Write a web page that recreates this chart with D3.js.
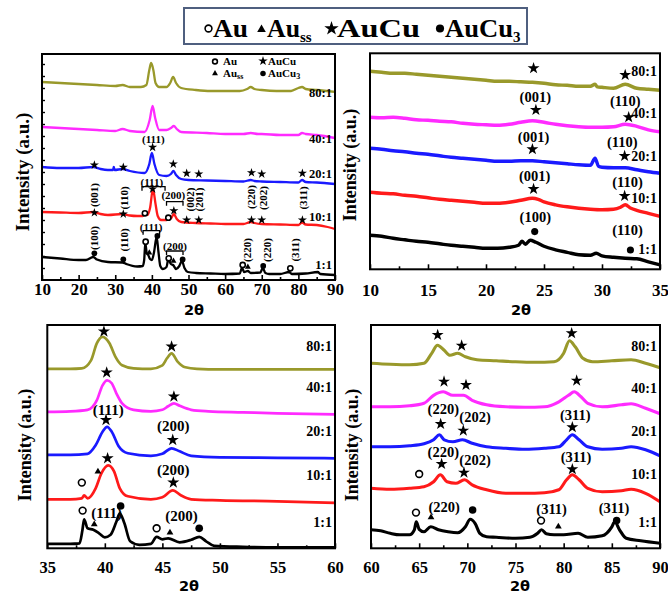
<!DOCTYPE html>
<html>
<head>
<meta charset="utf-8">
<script src="https://cdn.jsdelivr.net/npm/d3@7"></script>
<style>
body { margin: 0; background: #fff; }
svg text { font-family: "Liberation Serif", "Times New Roman", serif; font-weight: bold; fill: #000; }
</style>
</head>
<body>
<svg id="fig" width="668" height="594"></svg>
<script>
const serif = "'Liberation Serif', 'Times New Roman', serif";

// sample ratios and trace colours, top to bottom
const samples = ["80:1", "40:1", "20:1", "10:1", "1:1"];
const colors = ["#99992b", "#ff2bff", "#1a1aff", "#ff1a1a", "#000000"];

// ---- panel 1: full scan 10-90 (2theta, intensity a.u.)
const p1_80 = [[10,198],[15,197],[20,196],[25,195],[30,194],[32,195],[34,193],[37,193],[38.5,195],[39.3,210],[39.8,217],[40.4,210],[41,197],[42,193],[44,193],[45,197],[45.8,203],[46.6,197],[48,192],[52,190],[56,189],[60,189],[64,189],[66,191],[67,193],[68,191],[70,190],[74,189],[78,189],[80,192],[81,193],[82,191],[85,190],[90,188]];
const p1_40 = [[10,153],[15,152],[20,151],[25,150],[30,149],[32,151],[34,149],[38,148],[39.4,160],[40.2,174],[40.9,162],[42,150],[44,150],[45.2,152],[46,154],[46.8,151],[48,148],[55,147],[60,146],[65,146],[67,147],[69,146],[70,146],[75,145],[80,145],[81,147],[82,146],[85,145],[90,142]];
const p1_20 = [[10,113],[15,112],[20,112],[24,113],[26,111],[28,110],[29.4,110],[29.6,113],[29.8,110],[32,111],[34,109],[38,107],[39.3,116],[40,127],[40.7,116],[42,105],[44,104],[45.2,106],[45.9,109],[46.6,105],[48,101],[50,100],[55,99.5],[60,99],[65,98.5],[67,100],[68,99],[70,98.5],[75,98],[80,97.5],[81,100],[82,98],[85,97.5],[90,96]];
const p1_10 = [[10,68],[15,67.5],[20,67],[24,68],[26,66],[28,65],[32,66],[34,64.5],[36,64],[37.5,64],[38.2,66.5],[38.8,65],[39.5,72],[40.3,91],[41,76],[41.6,64],[42.5,60],[44,60],[44.6,61],[45.3,62],[46,66],[46.8,61],[48,58],[52,57],[56,56.5],[60,56],[65,56],[67,58],[68,57],[70,56],[75,55.5],[80,55],[81,57.5],[82,55.5],[85,55],[88,53],[90,51]];
const p1_1 = [[10,23],[15,21.5],[20,20],[22,20],[24,23],[25,20.5],[28,18],[32,17.5],[33,16],[36,13.5],[37.5,14],[37.9,20],[38.2,37],[38.6,27],[39,25],[39.5,21],[40,20],[40.6,28],[41.3,43],[41.8,28],[42.3,14],[43,11],[44,13],[44.5,21],[45.2,16],[45.8,15],[46.6,11],[47.5,14],[48.2,19],[48.9,12],[49.8,8],[52,7],[56,6.5],[60,6],[64,6.5],[64.6,12],[65.2,8],[66.2,9],[67,7],[69.6,7.5],[70.3,12],[71,7],[72,6],[75,6],[77.5,8],[78.2,6],[82,6.5],[85.3,8],[86,6],[90,5]];

// ---- panel 2: 10-35
const p2_80 = [[10,198],[11,197],[12,196],[13,196],[14,195],[15,194],[16,193],[17,192],[18,191],[19,190],[20,189],[21,188],[22,188],[23,187.5],[24,187],[25,186],[26,184.5],[27,184],[28,183],[29,183],[29.4,185],[29.6,182.5],[30,182],[31,181],[32,185],[33,181],[34,180],[35,179]];
const p2_40 = [[10,152],[11,151.5],[12,152],[13,151],[14,149.5],[15,149],[16,148],[17,147.5],[18,146],[19,145],[20,144.5],[21,144],[22,145],[23,147],[24,148.5],[25,147],[26,145],[27,143.5],[28,142.5],[29,142],[30,142],[31,142.5],[32,145],[33,143],[34,139.5],[35,137.5]];
const p2_20 = [[10,121],[11,120],[12,118.5],[13,117.5],[14,116],[15,115],[16,113.5],[17,112],[18,111],[19,110],[20,109],[21,108],[22,108],[23,108.5],[24,108.5],[25,107.5],[26,106.5],[27,105.5],[28,104.5],[29,104],[29.4,111],[29.7,103],[30,102],[31,101.5],[32,101.5],[33,99.5],[34,97.5],[35,96]];
const p2_10 = [[10,77],[11,76],[12,75.5],[13,74],[14,73],[15,71.5],[16,70],[17,69],[18,68],[19,67],[20,66],[21,66],[22,67],[23,69],[24,71],[24.5,70],[25,67.5],[26,64.5],[27,62.5],[28,61],[29,60],[30,59.5],[31,60],[31.6,62],[32,64.5],[32.5,61],[33,59],[34,56],[35,53]];
const p2_1 = [[10,34],[11,33],[12,31],[13,29.5],[14,28],[15,27],[16,25.5],[17,24],[18,23],[19,22],[20,21],[21,21],[22,22],[22.8,24],[23.1,28],[23.4,25],[23.8,29],[24.3,27],[25,23],[26,19.5],[27,17],[28,14.5],[29,14],[29.5,16],[30,13.5],[31,12],[32,11],[33,10.5],[34,7.5],[35,4.5]];

// ---- panel 3: 35-60
const p3_80 = [[35,179.5],[36,179.5],[37,179.5],[38,180],[38.8,188],[39.3,205],[39.8,211.5],[40.4,205],[40.9,192],[41.5,183],[42.5,180],[44,179.5],[45,183],[45.4,190],[45.8,195],[46.3,187],[47,181],[48,179.5],[50,179],[55,179],[60,179]];
const p3_40 = [[35,136.5],[37,137],[38.5,138.5],[39.3,148],[39.8,163],[40.2,168],[40.6,165],[41,155],[41.5,145],[42.5,138.5],[44,137],[45,138.5],[45.5,142],[46,145],[46.5,142.5],[47.5,138.5],[49,137],[52,136],[55,135],[60,134]];
const p3_20 = [[35,93.5],[37,93.5],[38.5,94.5],[39.2,103],[39.8,116.5],[40.2,121.5],[40.6,116.5],[41.2,102],[42,95],[44,92.5],[45,94.5],[45.8,100],[46.5,97],[47.5,92.5],[50,91],[55,90.5],[60,90]];
const p3_10 = [[35,49],[37,49],[38,50],[38.2,53],[38.5,50],[39.2,60],[39.7,75],[40.3,83],[40.8,77],[41.3,60],[42,52],[44,49],[45,51],[45.9,58],[46.6,53],[47.5,49],[50,48],[55,47],[60,45.5]];
const p3_1 = [[35,4.5],[37,4.5],[37.8,5],[38.05,18],[38.2,29],[38.5,20],[39,18.5],[39.5,15],[40,11],[40.5,13.5],[41,26.5],[41.3,35],[41.7,25],[42.2,7],[43,3.5],[44,4.5],[44.5,11.5],[45,9],[45.5,10],[46.5,6],[47.5,8.5],[48.2,11.5],[48.8,7],[49.5,2.5],[52,1.5],[55,1],[60,1]];

// ---- panel 4: 60-90
const p4_80 = [[60,185],[62,184],[64,183.5],[65.5,185],[66.3,195],[66.9,203],[67.6,198],[68.2,193],[69,195],[69.8,191.5],[71,188.5],[73,187.5],[75,186.5],[77,186],[79,186.5],[80,195],[80.6,207.5],[81.2,201.5],[82,190],[83,186.5],[85,187.5],[87,188.5],[88.5,185],[90,180.5]];
const p4_40 = [[60,141.5],[62,141.5],[64,142.5],[65.5,145],[66.5,153],[67.5,156.5],[68.5,153],[69.6,153],[70.5,148],[72,143.5],[74,141.5],[76,141],[78,141.5],[79.5,146.5],[80.5,153],[81.1,156.5],[81.8,151.5],[82.5,145],[84,141.5],[86,143.5],[87,144.5],[88.5,140],[90,134.5]];
const p4_20 = [[60,101.5],[62,101.5],[64,102.5],[65.5,104.5],[66.5,108.5],[67.1,113.5],[67.6,108.5],[68.5,106.5],[69.5,108.5],[70.5,105],[72,101.5],[74,100],[76,99],[78,100],[79.5,101.5],[80.3,108.5],[80.9,113.5],[81.6,108.5],[82.5,101.5],[84,99],[86,100],[87,101.5],[88.5,98.5],[90,92.5]];
const p4_10 = [[60,60],[62,59],[64,60],[65.5,61.5],[66.5,66.5],[67.2,73.5],[67.9,66.5],[68.8,65],[69.7,68.5],[70.5,63.5],[72,58.5],[74,55],[76,55],[78,55.5],[79.5,58.5],[80.3,68.5],[80.9,73.5],[81.6,68.5],[82.5,60],[84,56.5],[86,57.5],[87,59],[88.5,55],[90,46.5]];
const p4_1 = [[60,18.5],[61,17.5],[62,15],[63,13.5],[64,13.5],[64.5,18.5],[64.7,26.5],[65,19],[65.5,16.5],[66.2,21.5],[67,18.5],[68,16.5],[69,15.5],[69.8,21.5],[70.3,29],[70.8,25],[71.3,15],[72,11.5],[73,11],[75,10],[76.5,11],[77.3,15],[77.7,18.5],[78.2,14.5],[79,13.5],[80,13.5],[81.5,15],[82.5,11],[84,12.5],[85,21.5],[85.3,26.5],[85.8,18.5],[86.5,10],[88,7.5],[90,5]];

// x tick labels
const ticks1 = [10, 20, 30, 40, 50, 60, 70, 80, 90];
const ticks2 = [10, 15, 20, 25, 30, 35];
const ticks3 = [35, 40, 45, 50, 55, 60];
const ticks4 = [60, 65, 70, 75, 80, 85, 90];

// height (a.u.) of each sample label, per panel
const labelY1 = [186.7, 140.7, 106, 63.3, 15];
const labelY2 = [197.7, 156, 112.7, 71, 20];
const labelY3 = [201.7, 161, 116.7, 73.3, 25.7];
const labelY4 = [201.7, 160, 116.7, 74.3, 25.7];

// phase markers: [type, 2theta, intensity]
const marks1 = [
  ["star",24.3,115],["star",32.2,112.7],["star",40.2,132.7],["star",45.85,116],["star",49.5,106.7],["star",52.8,106],["star",67.2,107.3],["star",70.0,106],["star",81.1,106.7],
  ["star",24.3,67.3],["star",32.2,66],["star",40.2,91],["star",46.0,69.3],["star",49.5,60],["star",52.8,60],["star",67.2,60],["star",70.0,60],["star",81.1,60],
  ["open",38.1,66.7],["open",44.5,62.3],
  ["dot",24.3,26.7],["dot",32.2,20.7],["dot",41.5,44],["dot",48.4,20.5],["dot",70.4,14],
  ["open",38.3,38.3],["open",44.6,21.7],["open",64.8,15],["open",77.8,11.7],
  ["tri",39.3,27.3],["tri",45.9,19],["tri",66.2,13]
];
const marks2 = [
  ["star",24.1,201],["star",32.0,194.3],["star",24.3,159.3],["star",32.3,152],["star",24.0,120],["star",31.95,113.3],["star",24.1,80.3],["star",31.95,73.3],
  ["dot",24.2,37.7],["dot",32.45,19.3]
];
const marks3 = [
  ["star",39.92,216.7],["star",45.8,201.7],["star",40.16,175.7],["star",46.0,151.7],["star",40.1,128.3],["star",45.9,108.3],["star",40.24,90],["star",45.95,65.7],
  ["tri",39.4,76.7],["tri",39.08,24],["tri",45.66,15.7],
  ["open",38.0,65.7],["open",38.07,37.7],["open",44.5,20],
  ["dot",41.37,42.3],["dot",48.2,20]
];
const marks4 = [
  ["star",66.92,213.3],["star",69.41,202.7],["star",80.83,215],["star",67.58,166.7],["star",69.86,163.3],["star",81.35,167.7],
  ["star",67.23,124.3],["star",69.58,117.7],["star",80.9,121],["star",67.33,84.3],["star",69.65,75.7],["star",80.9,79],
  ["open",65.0,74.3],["open",64.67,35.7],["open",77.65,27.7],
  ["tri",66.23,31],["tri",79.45,21.7],
  ["dot",70.55,38.3],["dot",85.5,27.7]
];

// Miller index labels: [text, 2theta, intensity, rotated]
const hkl1 = [
  ["(111)",40.4,140.7,0],["(111)",40.0,98.3,0],["(200)",45.85,85,0],["(111)",39.8,53.3,0],["(200)",46.3,34,0],
  ["(001)",24.3,85,1],["(110)",32.4,82,1],["(002)",50.4,80.5,1],["(201)",53.0,80.5,1],["(220)",67.2,83,1],["(202)",70.3,82,1],["(311)",81.2,82,1],
  ["(100)",24.2,42,1],["(110)",32.5,40,1],["(220)",65.9,30,1],["(220)",71.4,30,1],["(311)",79.1,30,1]
];
const hkl2 = [
  ["(001)",24.25,172,0],["(110)",32.0,168.5,0],["(001)",24.1,132.7,0],["(110)",31.75,127.7,0],
  ["(001)",24.2,93.3,0],["(110)",32.2,87.7,0],["(100)",24.25,52,0],["(110)",32.2,39.3,0]
];
const hkl3 = [
  ["(111)",40.3,138.3,0],["(200)",45.95,122.3,0],["(200)",45.95,78.3,0],["(111)",40.16,35,0],["(200)",46.67,32.3,0]
];
const hkl4 = [
  ["(220)",67.5,139,0],["(202)",70.8,131,0],["(311)",81.2,133.3,0],["(220)",67.5,96.7,0],["(202)",70.8,88.3,0],
  ["(311)",81.28,91.7,0],["(220)",67.6,41.7,0],["(311)",78.75,39,0],["(311)",85.22,40,0]
];
// brackets grouping reflections in panel 1: [from, to, intensity]
const brackets1 = [[37.3,43.6,93.3],[44.0,48.5,78.3],[37.6,42.1,49.3],[44.0,48.5,29]];

const panels = [
  { box: [42, 54, 335, 280], x: [10, 90], ticks: ticks1, minor: 5, series: [p1_80, p1_40, p1_20, p1_10, p1_1],
    labelY: labelY1, marks: marks1, hkl: hkl1, brackets: brackets1, lw: 2.3, pad: 3, tfs: 17, fs: 12.5, hfs: 11,
    sym: { star: 26, dot: 26, open: 2.6, tri: 15 }, ylab: [22, 172, 19], xlab: [194, 310], yticks: true },
  { box: [370, 53.3, 660, 269.3], x: [10, 35], ticks: ticks2, minor: 2.5, series: [p2_80, p2_40, p2_20, p2_10, p2_1],
    labelY: labelY2, marks: marks2, hkl: hkl2, brackets: [], lw: 3.4, pad: 15, tfs: 17, fs: 14, hfs: 14.5,
    sym: { star: 44, dot: 40, open: 3.3, tri: 20 }, ylab: [350, 165, 18], xlab: [521, 310] },
  { box: [47.3, 325, 335, 548.3], x: [35, 60], ticks: ticks3, minor: 2.5, series: [p3_80, p3_40, p3_20, p3_10, p3_1],
    labelY: labelY3, marks: marks3, hkl: hkl3, brackets: [], lw: 2.7, pad: 13, tfs: 16.5, fs: 14, hfs: 15,
    sym: { star: 46, dot: 46, open: 3.4, tri: 20 }, ylab: [25, 445, 18], xlab: [189, 586] },
  { box: [371, 325, 660, 548.3], x: [60, 90], ticks: ticks4, minor: 2.5, series: [p4_80, p4_40, p4_20, p4_10, p4_1],
    labelY: labelY4, marks: marks4, hkl: hkl4, brackets: [], lw: 3.1, pad: 13, tfs: 16.5, fs: 14, hfs: 14.5,
    sym: { star: 44, dot: 44, open: 3.4, tri: 20 }, ylab: [352, 445, 18], xlab: [520, 586] }
];

const svg = d3.select("#fig");

function drawMark(g, type, x, y, s) {
  if (type === "open") {
    g.append("circle").attr("cx", x).attr("cy", y).attr("r", s.open)
      .attr("fill", "#fff").attr("stroke", "#000").attr("stroke-width", 1.6);
    return;
  }
  const shape = { star: d3.symbolStar, dot: d3.symbolCircle, tri: d3.symbolTriangle }[type];
  g.append("path")
    .attr("d", d3.symbol().type(shape).size(s[type])())
    .attr("transform", `translate(${x},${y})`)
    .attr("fill", "#000");
}

panels.forEach(p => {
  const [x0, y0, x1, y1] = p.box;
  const xScale = d3.scaleLinear().domain(p.x).range([x0, x1]);
  const yScale = d3.scaleLinear().domain([0, y1 - y0]).range([y1, y0]);
  const g = svg.append("g");

  // traces
  const line = d3.line()
    .x(d => xScale(d[0]))
    .y(d => yScale(d[1]))
    .curve(d3.curveMonotoneX);
  p.series.forEach((s, i) => {
    g.append("path")
      .datum(s)
      .attr("fill", "none")
      .attr("stroke", colors[i])
      .attr("stroke-width", p.lw)
      .attr("stroke-linejoin", "round")
      .attr("d", line);
  });

  // frame
  g.append("rect")
    .attr("x", x0).attr("y", y0)
    .attr("width", x1 - x0).attr("height", y1 - y0)
    .attr("fill", "none").attr("stroke", "#000").attr("stroke-width", 2);

  // x axis: major + minor ticks pointing inwards
  const minorTicks = d3.range(p.x[0] + p.minor, p.x[1], p.minor * 2);
  const axMinor = g.append("g")
    .attr("transform", `translate(0,${y1})`)
    .call(d3.axisBottom(xScale).tickValues(minorTicks).tickFormat("").tickSizeInner(-3).tickSizeOuter(0));
  const axMajor = g.append("g")
    .attr("transform", `translate(0,${y1})`)
    .call(d3.axisBottom(xScale).tickValues(p.ticks).tickSizeInner(-5).tickSizeOuter(0).tickPadding(p.pad));
  [axMinor, axMajor].forEach(a => {
    a.attr("font-family", serif);
    a.select(".domain").remove();
    a.selectAll("line").attr("stroke-width", 1.6);
  });
  axMajor.selectAll("text")
    .attr("font-family", serif)
    .style("font-size", p.tfs + "px")
    .style("font-weight", "bold");

  if (p.yticks) {
    const ay = g.append("g")
      .attr("transform", `translate(${x0},0)`)
      .call(d3.axisLeft(yScale).tickValues(d3.range(12, y1 - y0, 12)).tickFormat("").tickSizeInner(-3).tickSizeOuter(0));
    ay.select(".domain").remove();
    ay.selectAll("line").attr("stroke-width", 1.4);
  }

  // axis titles
  g.append("text")
    .attr("x", p.xlab[0]).attr("y", p.xlab[1])
    .attr("text-anchor", "middle").attr("dominant-baseline", "central")
    .style("font-family", "'DejaVu Sans', sans-serif")
    .style("font-size", "14.5px")
    .text("2θ");
  g.append("text")
    .attr("transform", `translate(${p.ylab[0]},${p.ylab[1]}) rotate(-90)`)
    .attr("text-anchor", "middle").attr("dominant-baseline", "central")
    .attr("font-family", serif)
    .style("font-size", p.ylab[2] + "px")
    .text("Intensity (a.u.)");

  // sample labels, right aligned inside the frame
  samples.forEach((name, i) => {
    g.append("text")
      .attr("x", x1 - 3).attr("y", yScale(p.labelY[i]))
      .attr("text-anchor", "end").attr("dominant-baseline", "central")
      .style("font-size", p.fs + "px")
      .text(name);
  });

  // Miller indices
  p.hkl.forEach(([t, hx, hy, rot]) => {
    g.append("text")
      .attr("transform", `translate(${xScale(hx)},${yScale(hy)})${rot ? " rotate(-90)" : ""}`)
      .attr("text-anchor", "middle").attr("dominant-baseline", "central")
      .style("font-size", p.hfs + "px")
      .text(t);
  });

  p.brackets.forEach(([b0, b1, by]) => {
    const yy = yScale(by);
    g.append("path")
      .attr("d", `M${xScale(b0)},${yy + 4}V${yy}H${xScale(b1)}V${yy + 4}`)
      .attr("fill", "none").attr("stroke", "#000").attr("stroke-width", 1.3);
  });

  p.marks.forEach(([type, mx, my]) => drawMark(g, type, xScale(mx), yScale(my), p.sym));

  p.g = g;
});

// small legend inside panel 1
(() => {
  const g = panels[0].g;
  const s = { star: 28, dot: 24, open: 2.4, tri: 15 };
  const fs = "11px";
  drawMark(g, "open", 215, 61.5, s);
  drawMark(g, "tri", 215, 73.5, s);
  drawMark(g, "star", 263, 61, s);
  drawMark(g, "dot", 263, 73.5, s);
  g.append("text").attr("x", 223).attr("y", 65).style("font-size", fs).text("Au");
  g.append("text").attr("x", 268).attr("y", 65).style("font-size", fs).text("AuCu");
  const t1 = g.append("text").attr("x", 223).attr("y", 77).style("font-size", fs);
  t1.append("tspan").text("Au");
  t1.append("tspan").attr("dy", 2).style("font-size", "8px").text("ss");
  const t2 = g.append("text").attr("x", 268).attr("y", 77).style("font-size", fs);
  t2.append("tspan").text("AuCu");
  t2.append("tspan").attr("dy", 2).style("font-size", "8px").text("3");
})();

// top legend box
(() => {
  const g = svg.append("g");
  g.append("rect")
    .attr("x", 184).attr("y", 8).attr("width", 343).attr("height", 36)
    .attr("fill", "#fff").attr("stroke", "#4f5f7f").attr("stroke-width", 2);
  const s = { star: 64, dot: 52, open: 3.4, tri: 32 };
  drawMark(g, "open", 208.5, 28.5, s);
  drawMark(g, "tri", 261.5, 29.5, s);
  drawMark(g, "star", 331.5, 28.5, s);
  drawMark(g, "dot", 440, 28.5, s);
  const fs = "26px";
  g.append("text").attr("x", 213).attr("y", 37).style("font-size", fs)
    .attr("textLength", 35).attr("lengthAdjust", "spacingAndGlyphs").text("Au");
  const a = g.append("text").attr("x", 267).attr("y", 37).style("font-size", fs);
  a.append("tspan").attr("textLength", 33).attr("lengthAdjust", "spacingAndGlyphs").text("Au");
  a.append("tspan").attr("dy", 5).style("font-size", "15px").text("ss");
  g.append("text").attr("x", 337).attr("y", 37).style("font-size", fs)
    .attr("textLength", 83).attr("lengthAdjust", "spacingAndGlyphs").text("AuCu");
  const b = g.append("text").attr("x", 445).attr("y", 37).style("font-size", fs);
  b.append("tspan").attr("textLength", 68).attr("lengthAdjust", "spacingAndGlyphs").text("AuCu");
  b.append("tspan").attr("dy", 5).style("font-size", "15px").text("3");
})();
</script>
</body>
</html>
